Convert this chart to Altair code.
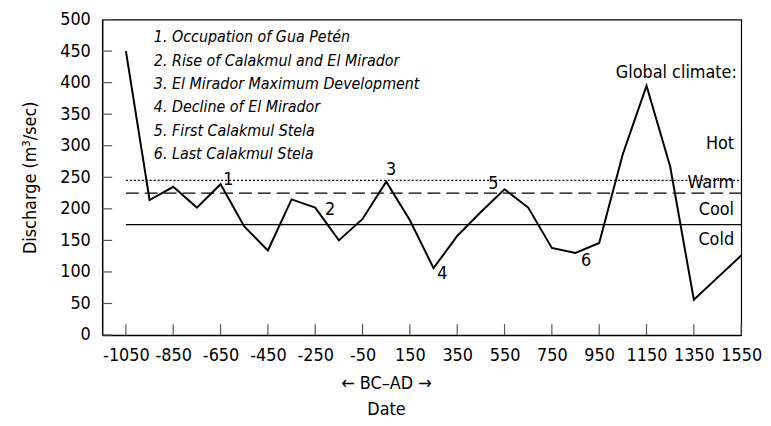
import altair as alt
import pandas as pd

# ---- data ----
years = [-1050, -950, -850, -750, -650, -550, -450, -350, -250, -150, -50, 50, 150,
         250, 350, 450, 550, 650, 750, 850, 950, 1050, 1150, 1250, 1350, 1450, 1550]
discharge = [450, 214, 235, 202, 239, 172, 134, 215, 202, 150, 184, 243, 182,
             106, 157, 195, 231, 202, 138, 130, 146, 287, 395, 267, 56, 91, 126]

x_ticks = [-1050, -850, -650, -450, -250, -50, 150, 350, 550, 750, 950, 1150, 1350, 1550]
y_ticks = [0, 50, 100, 150, 200, 250, 300, 350, 400, 450, 500]

# climate threshold lines
thr_names = ["warm", "cool", "cold"]
thr_values = [245, 225, 175]
thr_dash = [[2, 2], [13, 6], [1, 0]]

# legend of events
legend_lines = ["1. Occupation of Gua Petén", "2. Rise of Calakmul and El Mirador",
                "3. El Mirador Maximum Development", "4. Decline of El Mirador",
                "5. First Calakmul Stela", "6. Last Calakmul Stela"]
legend_y = [472, 435, 398, 361, 324, 287]
legend_x = -932

# event number labels
event_labels = ["1", "2", "3", "4", "5", "6"]
event_x = [-617, -187, 71, 287, 503, 895]
event_y = [245, 198, 261, 96, 239, 117]

# climate labels
climate_labels = ["Global climate:", "Hot", "Warm", "Cool", "Cold"]
climate_x = [1532, 1520, 1520, 1520, 1520]
climate_y = [415, 303, 241, 198, 151]

FONT = "DejaVu Sans Condensed, Liberation Sans, sans-serif"

xscale = alt.Scale(domain=[-1150, 1550], nice=False, zero=False)
yscale = alt.Scale(domain=[0, 500], nice=False)

df = pd.DataFrame({"year": years, "q": discharge})

label_expr = "datum.value < 0 ? '-' + abs(datum.value) : '' + datum.value"

line = alt.Chart(df).mark_line(color="black", strokeWidth=2).encode(
    x=alt.X("year:Q", scale=xscale,
            axis=alt.Axis(values=x_ticks, labelExpr=label_expr, labelOverlap=False,
                          title=["\u2190 BC\u2013AD \u2192", "Date"])),
    y=alt.Y("q:Q", scale=yscale,
            axis=alt.Axis(values=y_ticks, tickCount=11, labelExpr=label_expr,
                          labelOverlap=False, labelSeparation=0,
                          title="Discharge (m\u00b3/sec)")),
)

layers = []
for nm, v, d in zip(thr_names, thr_values, thr_dash):
    tdf = pd.DataFrame({"x1": [-1050], "x2": [1550], "y": [v]})
    layers.append(alt.Chart(tdf).mark_rule(color="black", strokeWidth=1.2, strokeDash=d).encode(
        x=alt.X("x1:Q", scale=xscale), x2="x2:Q",
        y=alt.Y("y:Q", scale=yscale)))

ytick_df = pd.DataFrame({"v": y_ticks})
yticks = alt.Chart(ytick_df).mark_rule(color="#555", strokeWidth=1.2).encode(
    y=alt.Y("v:Q", scale=yscale), x=alt.value(0), x2=alt.value(10))
xtick_df = pd.DataFrame({"v": x_ticks})
xticks = alt.Chart(xtick_df).mark_rule(color="#555", strokeWidth=1.2).encode(
    x=alt.X("v:Q", scale=xscale), y=alt.value(318), y2=alt.value(307))

leg_df = pd.DataFrame({"t": legend_lines, "y": legend_y, "x": [legend_x] * len(legend_lines)})
legend = alt.Chart(leg_df).mark_text(align="left", baseline="middle", fontSize=16,
                                     fontStyle="italic", font=FONT, color="black").encode(
    x=alt.X("x:Q", scale=xscale), y=alt.Y("y:Q", scale=yscale), text="t:N")

ev_df = pd.DataFrame({"t": event_labels, "x": event_x, "y": event_y})
events = alt.Chart(ev_df).mark_text(align="center", baseline="middle", fontSize=18,
                                    font=FONT, color="black").encode(
    x=alt.X("x:Q", scale=xscale), y=alt.Y("y:Q", scale=yscale), text="t:N")

cl_df = pd.DataFrame({"t": climate_labels, "x": climate_x, "y": climate_y})
climate = alt.Chart(cl_df).mark_text(align="right", baseline="middle", fontSize=18,
                                     font=FONT, color="black").encode(
    x=alt.X("x:Q", scale=xscale), y=alt.Y("y:Q", scale=yscale), text="t:N")

chart = alt.layer(line, *layers, yticks, xticks, legend, events, climate).properties(
    width=644, height=318,
    autosize=alt.AutoSizeParams(type="none"),
    padding={"left": 95, "top": 10, "right": 22, "bottom": 85},
    background="white",
).configure_view(
    stroke="black", strokeWidth=1.2
).configure_axis(
    ticks=False, grid=False, domainColor="black", domainWidth=1.2,
    labelFontSize=18, labelColor="black", labelFont=FONT, labelOverlap=False,
    labelFlush=False, titleFont=FONT, titleFontSize=18, titleFontWeight="normal",
    titleColor="black",
).configure_axisX(
    labelPadding=12, titleLineHeight=26, titleX=286, titlePadding=10,
).configure_axisY(
    labelPadding=12, titlePadding=20,
)

chart.save("out.html", embed_options={"renderer": "svg", "actions": False})
